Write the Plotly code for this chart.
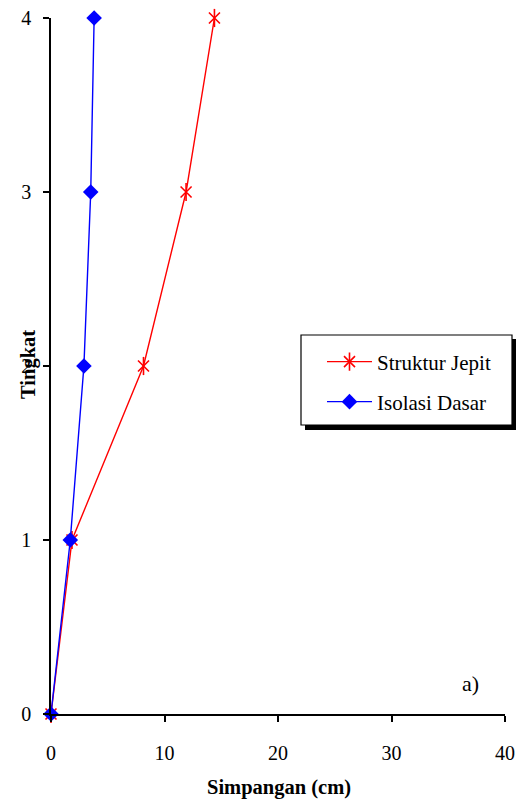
import plotly.graph_objects as go

levels = [0, 1, 2, 3, 4]
jepit = [0, 1.85, 8.15, 11.9, 14.4]
isolasi = [0, 1.7, 2.9, 3.5, 3.8]

W, H = 517, 804
L, R, T, B = 51, 505, 18, 714

def px(x):
    return (x - L) / (R - L)

def py(y):
    return (B - y) / (B - T)

FONT = "Times New Roman, Liberation Serif, serif"
RED = "#ff0000"
BLUE = "#0000ff"

fig = go.Figure()
fig.add_trace(go.Scatter(
    x=jepit, y=levels, mode="lines+markers", name="Struktur Jepit",
    line=dict(color=RED, width=1.4),
    marker=dict(symbol="x-thin-open", size=11, color=RED,
                line=dict(color=RED, width=1.6)),
    cliponaxis=False, legend="legend"))
fig.add_trace(go.Scatter(
    x=jepit, y=levels, mode="markers", name=" ",
    marker=dict(symbol="line-ns-open", size=13, color=RED,
                line=dict(color=RED, width=1.6)),
    cliponaxis=False, legend="legend3"))
fig.add_trace(go.Scatter(
    x=isolasi, y=levels, mode="lines+markers", name="Isolasi Dasar",
    line=dict(color=BLUE, width=1.4),
    marker=dict(symbol="diamond", size=12, color=BLUE),
    cliponaxis=False, legend="legend2"))

shapes = [
    dict(type="rect", xref="paper", yref="paper", layer="above",
         x0=px(305), x1=px(516), y0=py(339), y1=py(430),
         fillcolor="black", line=dict(width=0)),
    dict(type="rect", xref="paper", yref="paper", layer="above",
         x0=px(301), x1=px(512), y0=py(335), y1=py(425),
         fillcolor="white", line=dict(color="black", width=1.2)),
]

leg_common = dict(font=dict(family=FONT, size=21, color="black"),
                  bgcolor="rgba(0,0,0,0)", borderwidth=0,
                  xanchor="left", yanchor="middle", itemwidth=45)

fig.update_layout(
    width=W, height=H,
    margin=dict(l=L, r=W - R, t=T, b=H - B, autoexpand=False),
    paper_bgcolor="white", plot_bgcolor="white",
    font=dict(family=FONT, size=20, color="black"),
    showlegend=True,
    legend=dict(x=px(322), y=py(362), **leg_common),
    legend2=dict(x=px(322), y=py(402), **leg_common),
    legend3=dict(x=px(322), y=py(362), **leg_common),
    shapes=shapes,
    xaxis=dict(range=[0, 40], dtick=10, showgrid=False, zeroline=False,
               showline=True, linecolor="black", linewidth=1.5,
               ticks="outside", ticklen=6, tickwidth=1.5, tickcolor="black",
               ticklabelstandoff=14, automargin=False,
               tickfont=dict(family=FONT, size=20, color="black")),
    yaxis=dict(range=[0, 4], dtick=1, showgrid=False, zeroline=False,
               showline=True, linecolor="black", linewidth=1.5,
               ticks="outside", ticklen=6, tickwidth=1.5, tickcolor="black",
               ticklabelstandoff=8, automargin=False,
               tickfont=dict(family=FONT, size=20, color="black")),
    annotations=[
        dict(text="<b>Simpangan (cm)</b>", xref="paper", yref="paper",
             x=px(279), y=py(787), xanchor="center", yanchor="middle",
             showarrow=False, font=dict(family=FONT, size=20.5, color="black")),
        dict(text="<b>Tingkat</b>", xref="paper", yref="paper",
             x=px(28), y=py(365), xanchor="center", yanchor="middle",
             textangle=-90, showarrow=False,
             font=dict(family=FONT, size=20.5, color="black")),
        dict(text="a)", xref="paper", yref="paper",
             x=px(470), y=py(683), xanchor="center", yanchor="middle",
             showarrow=False, font=dict(family=FONT, size=22, color="black")),
    ],
)

fig.write_html("out.html")
